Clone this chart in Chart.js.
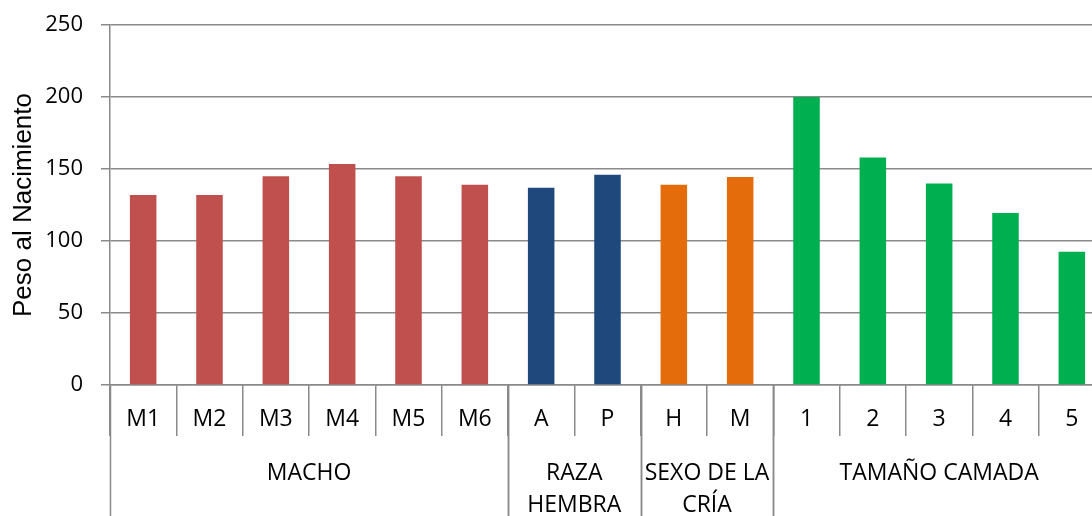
<!DOCTYPE html>
<html>
<head>
<meta charset="utf-8">
<script src="https://cdn.jsdelivr.net/npm/chart.js@4/dist/chart.umd.min.js"></script>
<style>
  html, body { margin: 0; padding: 0; background: #fff; overflow: hidden; }
  #wrap { width: 1105px; height: 516px; }
</style>
</head>
<body>
<div id="wrap"><canvas id="chart" width="1105" height="516"></canvas></div>
<script>
// Birth weight by factor level
const categories = ['M1', 'M2', 'M3', 'M4', 'M5', 'M6', 'A', 'P', 'H', 'M', '1', '2', '3', '4', '5'];
const pesoValues = [132, 132, 145, 153.5, 145, 139, 137, 146, 139, 144.5, 200, 158, 140, 119.5, 92.5];

// Factor groups along the axis (label lines and number of levels in each)
const groupNames = [['MACHO'], ['RAZA', 'HEMBRA'], ['SEXO DE LA', 'CRÍA'], ['TAMAÑO CAMADA']];
const groupSizes = [6, 2, 2, 5];
const groupColors = ['#C0504D', '#1F497D', '#E46C0A', '#00B050'];

const yTicks = [0, 50, 100, 150, 200, 250];

const barColors = [];
groupSizes.forEach((n, g) => { for (let i = 0; i < n; i++) barColors.push(groupColors[g]); });

const axisGray = '#8a8a8a';
const fontFamily = '"Open Sans", "Noto Sans", sans-serif';
const xTickFont = { family: fontFamily, size: 23 };
const yTickFont = { family: fontFamily, size: 22 };

// Second level of the category axis: group separators and group names
const groupAxis = {
  id: 'groupAxis',
  afterDraw(chart) {
    const x = chart.scales.x;
    const ctx = chart.ctx;
    const half = (x.getPixelForValue(1) - x.getPixelForValue(0)) / 2;
    const top = chart.chartArea.bottom;
    const bottom = chart.height;
    ctx.save();
    ctx.strokeStyle = axisGray;
    ctx.lineWidth = 1.5;
    ctx.fillStyle = '#000';
    ctx.font = `${xTickFont.size}px ${xTickFont.family}`;
    ctx.textAlign = 'center';
    ctx.textBaseline = 'alphabetic';
    let start = 0;
    groupSizes.forEach((n, g) => {
      const left = x.getPixelForValue(start) - half;
      const right = x.getPixelForValue(start + n - 1) + half;
      [left, right].forEach(px => {
        ctx.beginPath();
        ctx.moveTo(Math.round(px) + 0.5, top);
        ctx.lineTo(Math.round(px) + 0.5, bottom);
        ctx.stroke();
      });
      const cx = (left + right) / 2;
      groupNames[g].forEach((line, k) => ctx.fillText(line, cx, top + 95 + k * 31.5));
      start += n;
    });
    ctx.restore();
  }
};

new Chart(document.getElementById('chart'), {
  type: 'bar',
  data: {
    labels: categories,
    datasets: [{
      label: 'Peso al Nacimiento',
      data: pesoValues,
      backgroundColor: barColors,
      borderWidth: 0,
      categoryPercentage: 1.0,
      barPercentage: 0.40
    }]
  },
  options: {
    responsive: false,
    animation: false,
    layout: { padding: { top: 25, left: 0, right: 0, bottom: 0 } },
    plugins: { legend: { display: false }, tooltip: { enabled: false } },
    scales: {
      x: {
        offset: true,
        grid: {
          offset: true,
          drawOnChartArea: false,
          drawTicks: true,
          tickLength: 51,
          color: axisGray,
          lineWidth: 1.5
        },
        border: { display: true, color: axisGray, width: 1.5 },
        ticks: {
          color: '#000',
          font: xTickFont,
          padding: -30,
          maxRotation: 0,
          autoSkip: false
        },
        afterFit(scale) { scale.height = 131; }
      },
      y: {
        min: 0,
        max: 250,
        afterBuildTicks(scale) { scale.ticks = yTicks.map(v => ({ value: v })); },
        grid: {
          color: axisGray,
          lineWidth: 1.5,
          drawTicks: true,
          tickLength: 9
        },
        border: { display: true, color: axisGray, width: 1.5 },
        ticks: {
          color: '#000',
          font: yTickFont,
          padding: 18
        },
        title: {
          display: true,
          text: 'Peso al Nacimiento',
          color: '#000',
          font: { family: '"Liberation Sans", Arial, sans-serif', size: 26 },
          padding: { top: 8, bottom: 0 }
        },
        afterFit(scale) {
          scale.width = 110;
          scale.paddingTop = 0;
          scale.paddingBottom = 0;
        }
      }
    }
  },
  plugins: [groupAxis]
});
</script>
</body>
</html>
